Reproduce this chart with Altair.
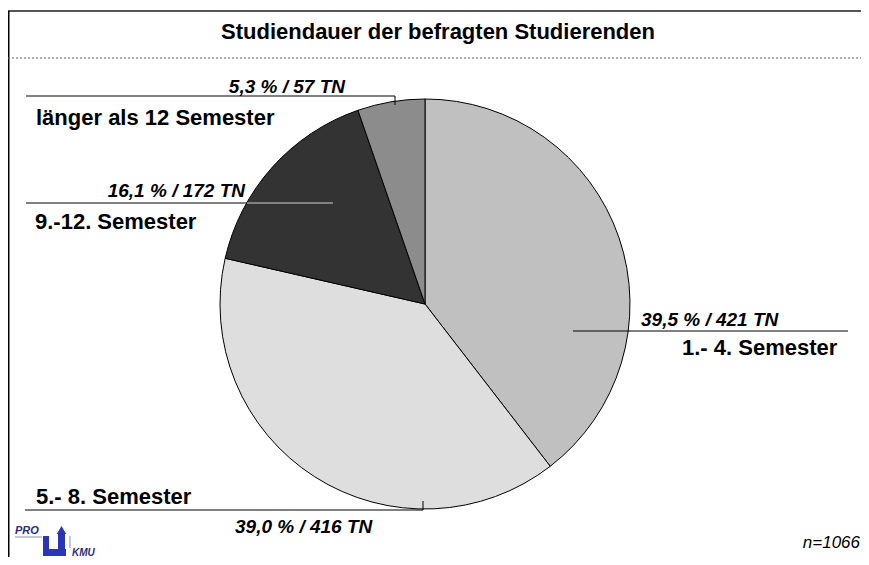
import altair as alt
import pandas as pd

# ---- data ----
categories = ["1.- 4. Semester", "5.- 8. Semester", "9.-12. Semester", "länger als 12 Semester"]
percents = [39.5, 39.0, 16.1, 5.3]
counts = [421, 416, 172, 57]
total_n = 1066
title_text = "Studiendauer der befragten Studierenden"

# ---- styles / layout (chart coordinates) ----
colors = ["#c0c0c0", "#dedede", "#333333", "#8c8c8c"]
W, H = 853, 549
CX, CY, R = 417, 296, 205
FONT = "Liberation Sans"

def fmt(p, n):
    return f"{p:.1f}".replace(".", ",") + " % / " + f"{n} TN"

pie_df = pd.DataFrame({"cat": categories, "pct": percents, "ord": list(range(len(categories)))})

pie = alt.Chart(pie_df).mark_arc(radius=R, stroke="#000000", strokeWidth=1).encode(
    theta=alt.Theta("pct:Q", stack=True),
    order=alt.Order("ord:Q"),
    color=alt.Color("cat:N", scale=alt.Scale(domain=categories, range=colors), legend=None),
    x=alt.value(CX),
    y=alt.value(CY),
)

# label layout (positions only)
pct_pos = {
    categories[0]: (633, 312, "left"),
    categories[1]: (227, 519, "left"),
    categories[2]: (237, 183, "right"),
    categories[3]: (337, 79, "right"),
}
cat_pos = {
    categories[0]: (674, 340),
    categories[1]: (28, 489),
    categories[2]: (27, 214),
    categories[3]: (28, 110),
}

pct_rows = [{"t": fmt(p, n), "x": pct_pos[c][0], "y": pct_pos[c][1], "al": pct_pos[c][2]}
            for c, p, n in zip(categories, percents, counts)]
pct_df = pd.DataFrame(pct_rows)
cat_df = pd.DataFrame([{"t": c, "x": cat_pos[c][0], "y": cat_pos[c][1]} for c in categories])

def txt(df, align, size, weight="bold", style="normal"):
    return alt.Chart(df).mark_text(
        align=align, baseline="middle", font=FONT, fontSize=size,
        fontWeight=weight, fontStyle=style, color="#000000"
    ).encode(
        x=alt.X("x:Q", scale=None, axis=None),
        y=alt.Y("y:Q", scale=None, axis=None),
        text="t:N",
    )

pct_left = txt(pct_df[pct_df.al == "left"], "left", 19, "bold", "italic")
pct_right = txt(pct_df[pct_df.al == "right"], "right", 19, "bold", "italic")
cat_text = txt(cat_df, "left", 22, "bold")
n_text = txt(pd.DataFrame([{"t": f"n={total_n}", "x": 852, "y": 535}]), "right", 17, "normal", "italic")
title = txt(pd.DataFrame([{"t": title_text, "x": 430, "y": 24}]), "center", 22, "bold")

# leader lines
lines_df = pd.DataFrame([
    {"x1": 565, "x2": 840, "y1": 323, "y2": 323, "c": "#000000"},
    {"x1": 17, "x2": 415, "y1": 502, "y2": 502, "c": "#000000"},
    {"x1": 415, "x2": 415, "y1": 493, "y2": 502, "c": "#000000"},
    {"x1": 18, "x2": 239, "y1": 195, "y2": 195, "c": "#000000"},
    {"x1": 239, "x2": 325, "y1": 195, "y2": 195, "c": "#d0d0d0"},
    {"x1": 18, "x2": 387, "y1": 88, "y2": 88, "c": "#000000"},
    {"x1": 387, "x2": 387, "y1": 88, "y2": 97, "c": "#000000"},
])
leaders = alt.Chart(lines_df).mark_rule(strokeWidth=1).encode(
    x=alt.X("x1:Q", scale=None, axis=None), x2="x2:Q",
    y=alt.Y("y1:Q", scale=None, axis=None), y2="y2:Q",
    color=alt.Color("c:N", scale=None),
)

# frame
frame_df = pd.DataFrame([
    {"x1": 0, "x2": W, "y1": 3, "y2": 3, "c": "#555555"},
    {"x1": 0.5, "x2": 0.5, "y1": 3, "y2": H, "c": "#000000"},
])
frame = alt.Chart(frame_df).mark_rule(strokeWidth=2).encode(
    x=alt.X("x1:Q", scale=None, axis=None), x2="x2:Q",
    y=alt.Y("y1:Q", scale=None, axis=None), y2="y2:Q",
    color=alt.Color("c:N", scale=None),
)
dotted = alt.Chart(pd.DataFrame([{"x1": 0, "x2": W, "y": 50}])).mark_rule(
    strokeWidth=1, strokeDash=[2, 2], color="#666666"
).encode(
    x=alt.X("x1:Q", scale=None, axis=None), x2="x2:Q",
    y=alt.Y("y:Q", scale=None, axis=None),
)

# logo approximation
logo_pro = alt.Chart(pd.DataFrame([{"t": "PRO", "x": 7, "y": 523}])).mark_text(
    align="left", baseline="middle", font=FONT, fontSize=11, fontWeight="bold",
    fontStyle="italic", color="#2a2f7a"
).encode(x=alt.X("x:Q", scale=None, axis=None), y=alt.Y("y:Q", scale=None, axis=None), text="t:N")
logo_kmu = alt.Chart(pd.DataFrame([{"t": "KMU", "x": 64, "y": 545}])).mark_text(
    align="left", baseline="middle", font=FONT, fontSize=10, fontWeight="bold",
    fontStyle="italic", color="#2a2f7a"
).encode(x=alt.X("x:Q", scale=None, axis=None), y=alt.Y("y:Q", scale=None, axis=None), text="t:N")
logo_lines = alt.Chart(pd.DataFrame([
    {"x1": 7, "x2": 34, "y1": 529, "y2": 529},
    {"x1": 62, "x2": 62, "y1": 528, "y2": 540},
])).mark_rule(color="#8a8fb0", strokeWidth=1).encode(
    x=alt.X("x1:Q", scale=None, axis=None), x2="x2:Q",
    y=alt.Y("y1:Q", scale=None, axis=None), y2="y2:Q",
)
logo_rects = alt.Chart(pd.DataFrame([
    {"x1": 35, "x2": 41, "y1": 528, "y2": 548},
    {"x1": 35, "x2": 58, "y1": 541, "y2": 548},
    {"x1": 50, "x2": 57, "y1": 525, "y2": 548},
])).mark_rect(color="#2a36b8").encode(
    x=alt.X("x1:Q", scale=None, axis=None), x2="x2:Q",
    y=alt.Y("y1:Q", scale=None, axis=None), y2="y2:Q",
)
logo_arrow = alt.Chart(pd.DataFrame([{"x": 53.5, "y": 522}])).mark_point(
    shape="triangle-up", filled=True, size=90, color="#2a36b8", opacity=1
).encode(x=alt.X("x:Q", scale=None, axis=None), y=alt.Y("y:Q", scale=None, axis=None))

chart = alt.layer(
    frame, dotted, pie, leaders, title, pct_left, pct_right, cat_text, n_text,
    logo_lines, logo_rects, logo_arrow, logo_pro, logo_kmu
).properties(
    width=W, height=H, autosize=alt.AutoSizeParams(type="none"), padding=0,
    background="white",
).configure_view(stroke=None)

chart.save("out.html", embed_options={"renderer": "svg", "actions": False})
